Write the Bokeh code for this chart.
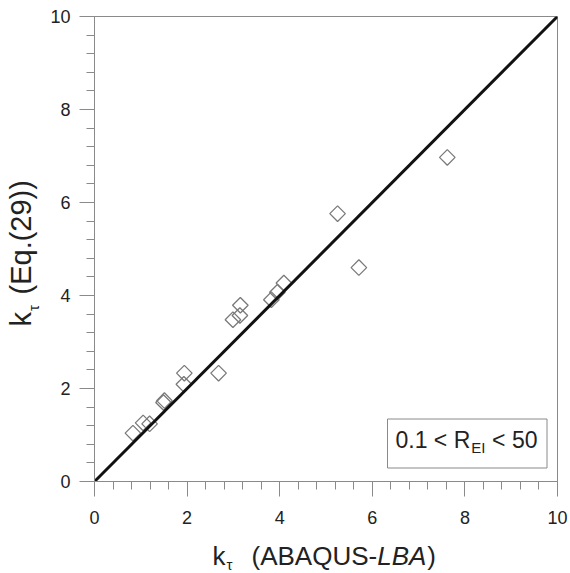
import numpy as np
from bokeh.plotting import figure
from bokeh.models import Label, SingleIntervalTicker, Range1d
from bokeh.layouts import column, row
from bokeh.embed import file_html
from bokeh.resources import INLINE

# ---- data ----
k_abaqus = [0.83, 1.05, 1.19, 1.49, 1.51, 1.93, 1.94, 2.68, 2.99, 3.14, 3.15, 3.82, 3.95, 4.09, 5.25, 5.71, 7.62]
k_eq29   = [1.04, 1.26, 1.24, 1.70, 1.74, 2.09, 2.33, 2.33, 3.48, 3.57, 3.79, 3.91, 4.07, 4.27, 5.76, 4.60, 6.97]
line_x = [0, 10]
line_y = [0, 10]
x_tick_interval = 2
y_tick_interval = 2

FONT = "Liberation Sans"
GREY = "#8a8a8a"
TXT = "#222222"

# overall layout (window 570 x 573)
TOTAL_W, TOTAL_H = 570, 573
YLAB_W = 45          # strip for the rotated y label
XLAB_H = 40          # strip for the x label
MAIN_W = TOTAL_W - YLAB_W
MAIN_H = TOTAL_H - XLAB_H
FL, FR, FT, FB = 94, 557, 16, 481      # frame edges in window pixels
BASE_K = 0.36        # empirical shift: Label anchor sits this many em above the drawn baseline

# window px -> data coords of the main frame (0..10 both ways)
def dx(px):
    return (px - FL) / (FR - FL) * 10.0
def dy(py):
    return (FB - py) / (FB - FT) * 10.0

# approximate Helvetica/Arial advance widths (per 1000 em)
W = {'(': 333, ')': 333, 'A': 667, 'B': 667, 'Q': 778, 'U': 722, 'S': 667, '-': 333,
     'L': 556, 'E': 667, 'q': 556, '.': 278, '2': 556, '9': 556, ' ': 278, 'k': 500,
     '0': 556, '1': 556, '5': 556, '<': 584, 'R': 722, 'I': 278}
def tw(s, f):
    return sum(W[c] for c in s) * f / 1000.0

p = figure(width=MAIN_W, height=MAIN_H, x_range=Range1d(0, 10), y_range=Range1d(0, 10),
           output_backend="svg", toolbar_location=None, title=None,
           min_border_left=FL - YLAB_W, min_border_right=TOTAL_W - FR,
           min_border_top=FT, min_border_bottom=MAIN_H - FB)
p.background_fill_color = "white"
p.border_fill_color = "white"
p.outline_line_color = GREY
p.outline_line_width = 1
p.xgrid.visible = False
p.ygrid.visible = False

for ax, interval, standoff in ((p.xaxis[0], x_tick_interval, 14), (p.yaxis[0], y_tick_interval, 9)):
    ax.ticker = SingleIntervalTicker(interval=interval, num_minor_ticks=5)
    ax.axis_line_color = GREY
    ax.axis_line_width = 1
    ax.major_tick_line_color = GREY
    ax.minor_tick_line_color = GREY
    ax.major_tick_in = 0
    ax.major_tick_out = 15
    ax.minor_tick_in = 0
    ax.minor_tick_out = 8
    ax.major_label_text_font = FONT
    ax.major_label_text_font_size = "18px"
    ax.major_label_text_color = TXT
    ax.major_label_standoff = standoff
    ax.axis_label = None
p.yaxis[0].major_label_orientation = "horizontal"

# markers and 1:1 line
p.scatter(k_abaqus, k_eq29, marker="square", angle=np.pi / 4, size=11,
          fill_color=None, line_color="#7a7a7a", line_width=1.3)
p.line(line_x, line_y, line_color="#111111", line_width=3)

# legend-like box
p.quad(left=dx(387), right=dx(546.5), bottom=dy(467.5), top=dy(418.5),
       fill_color="white", line_color=GREY, line_width=1)

def lab(fig, text, x, y, size, angle=0.0, style="normal", align="left"):
    fig.add_layout(Label(x=x, y=y, text=text, text_font=FONT, text_font_size=f"{size}px",
                         text_color=TXT, text_font_style=style, angle=angle,
                         text_align=align, text_baseline="alphabetic"))

# box text: 0.1 < R_EI < 50  (baseline at window y 447.5)
FS_B = 23
FS_S = 15
lab(p, "0.1 < R", dx(395), dy(447.5 - BASE_K * FS_B), FS_B)
lab(p, "EI", dx(395 + tw("0.1 < R", FS_B) + 1), dy(452.5 - BASE_K * FS_S), FS_S)
lab(p, "< 50", dx(537), dy(447.5 - BASE_K * FS_B), FS_B, align="right")

def strip(w, h, yr):
    f = figure(width=w, height=h, x_range=Range1d(0, w), y_range=yr,
               output_backend="svg", toolbar_location=None, title=None,
               x_axis_location=None, y_axis_location=None,
               min_border=0, min_border_left=0, min_border_right=0,
               min_border_top=0, min_border_bottom=0)
    f.grid.visible = False
    f.outline_line_color = None
    f.background_fill_color = "white"
    f.border_fill_color = "white"
    return f

# x axis label strip: k_tau  (ABAQUS-LBA)   (baseline at window y 565)
FS_X = 26
xf = strip(TOTAL_W, XLAB_H, Range1d(0, XLAB_H))
def xy(py):  # window py -> strip y
    return TOTAL_H - py
xb = 565 - BASE_K * FS_X
x0 = 212
lab(xf, "k", x0, xy(xb), FS_X)
lab(xf, "\u03c4", x0 + tw("k", FS_X) + 1, xy(569 - BASE_K * FS_S), FS_S)
xs = 251
lab(xf, "(ABAQUS-", xs, xy(xb), FS_X)
xs2 = xs + tw("(ABAQUS-", FS_X)
lab(xf, "LBA", xs2, xy(xb), FS_X, style="italic")
lab(xf, ")", xs2 + tw("LBA", FS_X) + 1, xy(xb), FS_X)

# y axis label strip (rotated): k_tau  (Eq.(29)); its frame aligns with the main frame
FS_Y = 29
yf = strip(YLAB_W, MAIN_H, Range1d(0, 10))
bx = 31 - BASE_K * FS_Y          # baseline at window x 31
y0 = 326
lab(yf, "k", bx, dy(y0), FS_Y, angle=np.pi / 2)
lab(yf, "\u03c4", 38 - BASE_K * FS_S, dy(y0 - tw("k", FS_Y) - 1), FS_S, angle=np.pi / 2)
lab(yf, "(Eq.(29))", bx, dy(294), FS_Y, angle=np.pi / 2)

layout = column(row(yf, p), xf)
open("out.html", "w").write(file_html(layout, INLINE))
